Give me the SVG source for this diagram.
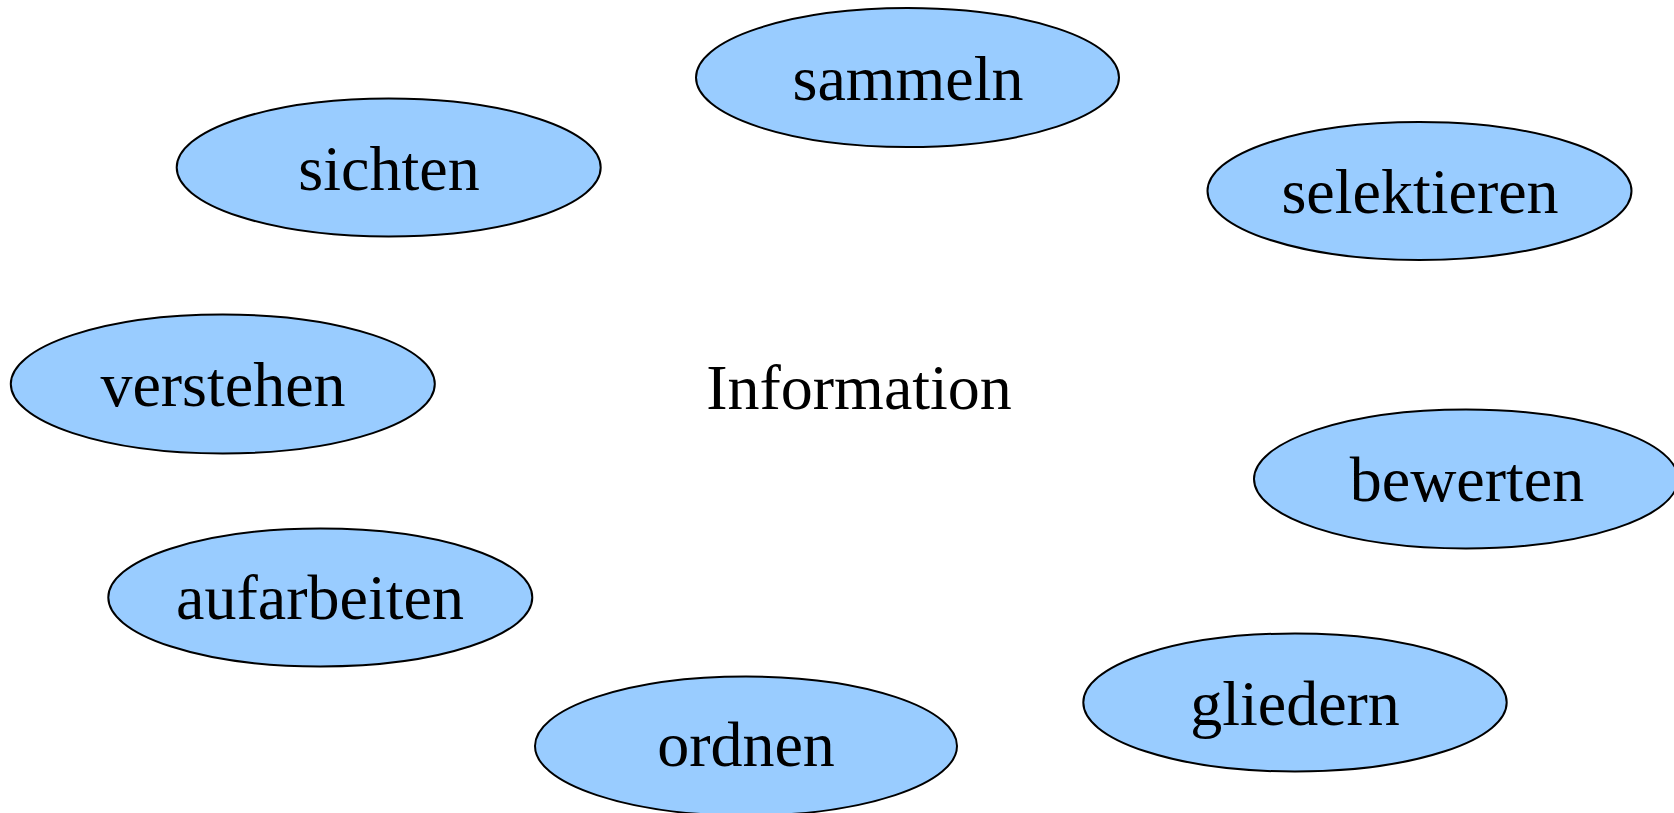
<svg xmlns="http://www.w3.org/2000/svg" width="1674" height="813" viewBox="0 0 1674 813">
<style>
.n ellipse{fill:#99ccff;stroke:#000;stroke-width:2}
text{font-family:"Liberation Serif","Times New Roman",serif;font-size:64px;fill:#000;text-anchor:middle}
</style>
<rect width="1674" height="813" fill="#fff"/>
<g id="connectors"/>
<g id="information"><text x="859" y="409">Information</text></g>
<g id="sammeln" class="n"><ellipse cx="907.5" cy="77.5" rx="211.5" ry="69.5"/><text x="908" y="100">sammeln</text></g>
<g id="sichten" class="n"><ellipse cx="388.7" cy="167.5" rx="212" ry="69"/><text x="389" y="190">sichten</text></g>
<g id="selektieren" class="n"><ellipse cx="1419.5" cy="191" rx="212" ry="69"/><text x="1420" y="213">selektieren</text></g>
<g id="verstehen" class="n"><ellipse cx="222.8" cy="384" rx="212" ry="69.5"/><text x="223" y="406">verstehen</text></g>
<g id="bewerten" class="n"><ellipse cx="1466" cy="479" rx="212" ry="69.5"/><text x="1467" y="501">bewerten</text></g>
<g id="aufarbeiten" class="n"><ellipse cx="320.3" cy="597.5" rx="212" ry="69"/><text x="320" y="619">aufarbeiten</text></g>
<g id="gliedern" class="n"><ellipse cx="1295" cy="702.5" rx="211.7" ry="69"/><text x="1295" y="725">gliedern</text></g>
<g id="ordnen" class="n"><ellipse cx="746" cy="746" rx="211" ry="69.5"/><text x="746" y="766">ordnen</text></g>
</svg>
